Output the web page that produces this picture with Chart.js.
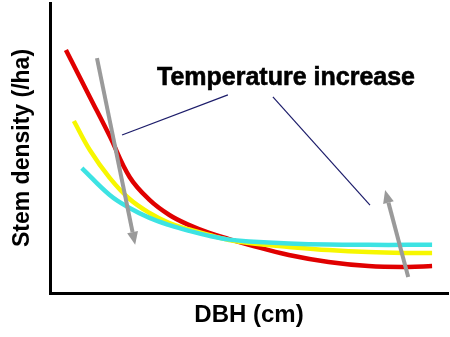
<!DOCTYPE html>
<html>
<head>
<meta charset="utf-8">
<script src="https://cdn.jsdelivr.net/npm/chart.js@4"></script>
<style>
  html, body { margin: 0; padding: 0; background: #fff; }
  #wrap { width: 450px; height: 337px; }
</style>
</head>
<body>
<div id="wrap"><canvas id="c"></canvas></div>
<script>
// DBH positions (relative units, 0-100) and stem densities per series
const redX    = [4, 10, 15, 20, 25, 30, 35, 40, 45, 50, 60, 70, 80, 90, 96];
const redY    = [83.8, 67.6, 54.1, 40.0, 32.1, 26.9, 23.4, 20.7, 18.6, 16.6, 13.1, 10.7, 9.3, 9.0, 9.3];
const yellowX = [6, 10, 15, 20, 25, 30, 35, 40, 45, 50, 60, 70, 80, 90, 96];
const yellowY = [59.3, 49.3, 39.7, 32.4, 27.6, 24.1, 21.9, 20.0, 18.3, 17.2, 15.9, 14.8, 14.1, 13.8, 13.8];
const cyanX   = [8, 15, 20, 25, 30, 35, 40, 45, 50, 60, 70, 80, 90, 96];
const cyanY   = [43.1, 33.8, 29.3, 25.9, 23.4, 21.4, 19.7, 18.4, 17.8, 17.1, 16.7, 16.6, 16.6, 16.6];

// annotation: gray arrows [x0, y0, x1, y1] (tail -> head), pointer lines, label
const arrows   = [[11.8, 81.0, 21.4, 16.6], [90.0, 5.5, 84.2, 35.5]];
const pointers = [[18.1, 54.5, 44.7, 68.3], [56.0, 67.6, 80.4, 30.3]];
const labelText = 'Temperature increase';
const labelPos  = [59.3, 71.7];

const FONT = "'Liberation Sans', Arial, sans-serif";

const pts = (xs, ys) => xs.map((x, i) => ({ x, y: ys[i] }));

const annotate = {
  id: 'annotate',
  afterDatasetsDraw(chart) {
    const { ctx, scales: { x, y } } = chart;
    ctx.save();
    // pointer lines
    ctx.strokeStyle = '#1c1c6a';
    ctx.lineWidth = 1.2;
    pointers.forEach(p => {
      ctx.beginPath();
      ctx.moveTo(x.getPixelForValue(p[0]), y.getPixelForValue(p[1]));
      ctx.lineTo(x.getPixelForValue(p[2]), y.getPixelForValue(p[3]));
      ctx.stroke();
    });
    // gray arrows
    ctx.strokeStyle = '#9a9a9a';
    ctx.fillStyle = '#9a9a9a';
    ctx.lineWidth = 4;
    arrows.forEach(a => {
      const x0 = x.getPixelForValue(a[0]), y0 = y.getPixelForValue(a[1]);
      const x1 = x.getPixelForValue(a[2]), y1 = y.getPixelForValue(a[3]);
      const ang = Math.atan2(y1 - y0, x1 - x0);
      const hl = 13, hw = 5.5;
      const bx = x1 - hl * Math.cos(ang), by = y1 - hl * Math.sin(ang);
      ctx.beginPath();
      ctx.moveTo(x0, y0);
      ctx.lineTo(bx, by);
      ctx.stroke();
      ctx.beginPath();
      ctx.moveTo(x1, y1);
      ctx.lineTo(bx + hw * Math.sin(ang), by - hw * Math.cos(ang));
      ctx.lineTo(bx - hw * Math.sin(ang), by + hw * Math.cos(ang));
      ctx.closePath();
      ctx.fill();
    });
    // label (thin stroke to thicken the bold face a little)
    ctx.fillStyle = '#000';
    ctx.strokeStyle = '#000';
    ctx.lineWidth = 0.6;
    ctx.font = 'bold 25px ' + FONT;
    ctx.textAlign = 'center';
    ctx.textBaseline = 'alphabetic';
    const lx = x.getPixelForValue(labelPos[0]), ly = y.getPixelForValue(labelPos[1]);
    ctx.fillText(labelText, lx, ly);
    ctx.strokeText(labelText, lx, ly);
    ctx.restore();
  }
};

const line = (data, color) => ({
  data,
  borderColor: color,
  borderWidth: 4.5,
  pointRadius: 0,
  fill: false,
  tension: 0.4,
});

new Chart(document.getElementById('c'), {
  type: 'line',
  data: {
    datasets: [
      line(pts(cyanX, cyanY), '#3de3e3'),
      line(pts(yellowX, yellowY), '#f7f700'),
      line(pts(redX, redY), '#e00000'),
    ]
  },
  options: {
    responsive: true,
    maintainAspectRatio: false,
    animation: false,
    layout: { padding: { left: 5, top: 3, right: 2, bottom: 3 } },
    plugins: { legend: { display: false }, tooltip: { enabled: false } },
    scales: {
      x: {
        type: 'linear', min: 0, max: 100,
        grid: { display: false },
        ticks: { display: false },
        border: { color: '#000', width: 3 },
        title: { display: true, text: 'DBH (cm)', color: '#000', font: { family: FONT, size: 24, weight: 'bold' } },
        afterFit: s => { s.height = 41; }
      },
      y: {
        min: 0, max: 100,
        grid: { display: false },
        ticks: { display: false },
        border: { color: '#000', width: 3 },
        title: { display: true, text: 'Stem density (/ha)', color: '#000', font: { family: FONT, size: 23, weight: 'bold' } },
        afterFit: s => { s.width = 45; }
      }
    }
  },
  plugins: [annotate]
});
</script>
</body>
</html>
